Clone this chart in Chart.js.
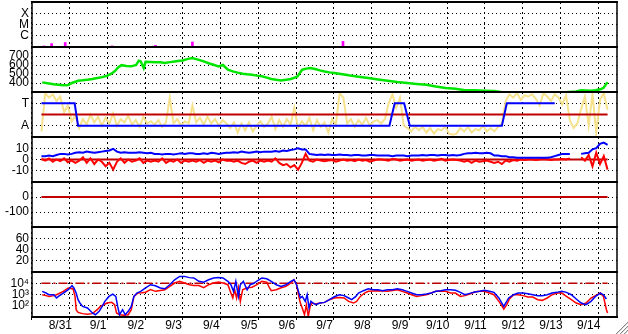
<!DOCTYPE html>
<html><head><meta charset="utf-8">
<script src="https://cdn.jsdelivr.net/npm/chart.js@4"></script>
<style>html,body{margin:0;padding:0;background:#fff;overflow:hidden}</style>
</head><body>
<canvas id="c" width="628" height="334"></canvas>
<script>
// ---------- labels ----------
const dayLabels = ['8/31','9/1','9/2','9/3','9/4','9/5','9/6','9/7','9/8','9/9','9/10','9/11','9/12','9/13','9/14'];
const xrayTickVals = [1,2,3];            const xrayTickText = ['C','M','X'];
const speedTickVals = [400,500,600,700];
const taTickVals = [1,3];                const taTickText = ['A','T'];
const bzTickVals = [-10,0,10];
const dstTickVals = [-100,0];
const kpTickVals = [20,40,60];
const fluxTickVals = [100,1000,10000];   const fluxTickText = ['10\u00b2','10\u00b3','10\u2074'];

// ---------- panel 1: flare spikes (days, height) ----------
const flareT = [0.07,0.27,0.63,1.87,3.02,4.00,7.99];
const flareH = [0.1,0.3,0.4,0.1,0.15,0.45,0.5];

// ---------- panel 2: solar wind speed ----------
const speedT = [0.02,0.20,0.33,0.45,0.58,0.71,0.81,0.97,1.09,1.22,1.35,1.48,1.61,1.74,1.84,1.94,2.04,2.12,2.25,2.38,
2.51,2.58,2.63,2.71,2.76,2.89,3.02,3.15,3.27,3.40,3.53,3.66,3.74,3.86,3.99,4.15,4.30,4.43,4.56,4.69,
4.81,4.94,5.07,5.20,5.33,5.45,5.58,5.71,5.84,5.97,6.09,6.22,6.35,6.48,6.61,6.71,6.79,6.86,6.91,7.02,
7.12,7.25,7.38,7.50,7.63,7.76,7.89,8.02,8.14,8.40,8.66,8.92,9.17,9.43,9.69,9.94,10.20,10.45,10.71,10.97,
11.22,11.48,11.74,11.99,12.25,12.76,13.27,13.79,14.17,14.30,14.56,14.68,14.81,14.89,15.0];
const speedV = [407,395,385,380,375,378,400,425,430,437,445,455,465,481,500,529,575,598,590,585,
600,648,640,567,635,633,630,630,622,632,640,648,651,665,677,660,640,620,603,585,
600,548,529,515,503,497,492,482,474,460,444,435,429,435,444,460,474,520,548,560,
567,555,540,528,518,510,503,495,485,470,455,440,425,410,400,390,380,360,345,335,
320,320,315,310,295,290,290,295,305,320,315,320,330,345,410];

// ---------- panel 3: yellow index (step 0.1 day), blue level, red reference ----------
const yellowStep = 0.1;
const yellowV = [0.5,3.9,3.5,3.8,3.2,3.6,2.2,2.8,1.4,1.9,
0.8,1.6,1.1,2.0,1.3,1.8,1.0,1.7,1.2,2.1,
1.0,1.6,1.3,1.9,1.1,1.5,0.9,1.8,1.2,1.4,
1.1,1.5,0.9,1.3,3.5,1.2,1.6,1.0,1.4,1.2,
2.8,1.3,1.7,1.1,1.8,1.2,1.6,1.0,1.5,1.2,
0.8,1.3,0.4,1.2,0.6,1.3,0.5,1.0,1.4,0.9,
1.2,1.8,0.7,1.5,0.9,1.6,1.1,2.6,0.8,1.4,
1.0,1.7,0.6,1.5,0.9,1.3,0.4,1.6,1.1,3.9,
3.5,1.2,1.6,0.9,1.5,1.1,1.7,1.0,1.4,1.5,
1.2,1.6,3.0,3.8,2.6,3.5,1.0,0.8,0.5,0.9,
0.6,0.9,0.4,0.8,0.3,0.7,0.6,0.9,0.3,0.2,
0.3,0.8,0.5,0.9,0.4,0.7,0.6,1.0,0.5,0.8,
0.5,0.9,1.2,3.2,3.8,3.5,3.9,3.3,3.7,3.6,
3.8,3.4,2.8,3.9,3.6,3.2,3.8,3.5,2.9,3.7,
1.5,0.8,1.2,2.5,3.6,1.0,3.8,0.4,3.3,3.9,2.4];
const levelT = [0,0.88,0.97,9.22,9.36,9.61,9.76,12.2,12.33,13.6];
const levelV = [3,3,1,1,3,3,1,1,3,3];
const taRef = 2;

// ---------- panel 4: Bz (red) and Bt (blue), step 0.1 day ----------
const bStep = 0.1;
const bzV = [0.5,-1,1,-2,0,-1.5,1,-2.5,-1,-3,
-1,2,-3,1,-4,0,-2,-6,-3,-9,
-2,1,-3,0,-2,-1,1,-3,-1,-2,
-1,-2,1,-3,-1,-2,0,-3,-1,-2,
-1,-2,-0.5,-3,-1,-2,-1,-2.5,0,-1,
-1,-2,-1,-3,-4,-2,-1,-3,-1,-2,
-1,-2,1,-3,-5,-4,-7,-5,-9,-3,
5,-1,-2,0,-1,-1.5,-1,-0.5,-2,-1,
0,-1,-0.5,-1.5,0,-1,-0.5,-2,-1,0,
0,-0.5,-1,0.5,0,-1,-0.5,0,-1,-0.5,
0,-1,-0.5,0,-1,-0.5,0.5,-1,-0.5,0,
-0.5,-1,-2,-1,-3,-1,-2,-1.5,-1,-2,
-3,-2,-4,-1,-2,-0.5,-1,0,-0.5,0,
0,-0.5,0,0.5,0,-0.5,0,0,0.5,0,
1,null,null,2,-1,4,-6,6,-4,3,-9];
const btV = [3,3,3.5,3,4,5,5,4.5,5,6,
6.5,6,7,6.5,6,6.5,7,7.5,8,9.5,
7,6,6.5,6,6,6,6.5,6,5.5,6,
5,5,4.5,5,5,4.5,5,5.5,5,5.5,
5.5,5,5,5.5,5,6,5.5,5,5.5,6,
6,6.5,6,7,6.5,6,6.5,7,6.5,7,
7,7,7.5,7,8,7.5,8.5,9,10,9,
9,5,4.5,4,4.5,4,4.5,4,4,4.5,
4,4,3.5,4,4,3.5,3.5,4,4,3.5,
3.5,3.5,3.5,3,3.5,3.5,3.5,3,3.5,3.5,
3.5,4,3.5,4,4,3.5,4,4,3.5,4,
3.5,4,5,5.5,5.5,6,5.5,5.5,6,5.5,
3.5,3.5,3,3,2,2,1.5,1.5,1.5,1.5,
1.5,1.5,1.5,1.5,1.5,2,3,4,5,5,
5,null,null,5,5.5,6,9,10,14,15,13];
const bzRef = 0;
const dstRef = 0;

// ---------- panel 7: electron flux (log10 of value) ----------
const fluxBlueT = [0.02,0.12,0.20,0.33,0.40,0.45,0.58,0.71,0.81,0.86,0.92,0.97,1.02,1.09,1.22,1.35,1.43,1.53,1.61,1.68,
1.79,1.89,1.97,2.02,2.07,2.15,2.22,2.30,2.38,2.45,2.53,2.63,2.76,2.89,3.02,3.15,3.27,3.40,3.53,3.66,
3.79,3.92,4.04,4.17,4.30,4.43,4.56,4.69,4.81,4.94,5.02,5.09,5.15,5.22,5.27,5.35,5.45,5.53,5.63,5.71,
5.84,5.97,6.09,6.22,6.35,6.48,6.61,6.69,6.76,6.81,6.86,6.91,6.99,7.04,7.09,7.14,7.20,7.27,7.38,7.50,
7.63,7.76,7.89,8.02,8.14,8.22,8.33,8.40,8.53,8.66,8.79,8.92,9.04,9.17,9.30,9.43,9.56,9.69,9.81,9.94,
10.07,10.20,10.33,10.45,10.58,10.71,10.84,10.97,11.10,11.22,11.35,11.48,11.61,11.74,11.87,11.99,12.12,12.20,12.25,12.30,
12.38,12.51,12.63,12.76,12.89,13.02,13.15,13.27,13.40,13.53,13.66,13.79,13.91,14.04,14.17,14.30,14.43,14.56,14.68,14.81,
14.89,14.97];
const fluxBlueLog = [3.28,3.13,2.98,2.98,2.69,2.83,3.13,3.43,3.78,3.58,3.13,2.54,2.24,1.94,1.80,1.36,1.2,1.5,1.94,2.39,
2.83,3.04,2.83,1.94,1.2,1.65,1.2,1.5,1.94,2.83,3.13,3.28,3.58,3.87,3.78,3.58,3.51,3.87,4.31,4.61,
4.61,4.5,4.47,4.17,4.1,4.31,4.47,4.5,4.47,4.17,3.87,3.28,4.17,2.83,3.87,4.17,3.42,3.87,4.0,4.2,
4.47,4.4,4.17,3.87,3.72,3.87,4.17,4.31,3.87,3.28,2.69,2.83,2.39,2.98,1.8,2.39,2.24,2.09,2.24,2.3,
2.54,2.8,2.98,2.9,2.69,2.54,2.83,3.13,3.34,3.5,3.42,3.42,3.34,3.42,3.42,3.51,3.42,3.28,3.13,2.98,
2.98,3.05,3.13,3.28,3.34,3.42,3.42,3.37,3.19,2.98,3.1,3.22,3.28,3.37,3.28,3.19,2.69,2.24,1.94,2.24,
2.69,2.98,3.13,3.13,3.07,2.98,2.9,2.9,2.98,3.13,3.19,3.28,3.19,2.98,2.6,2.24,2.09,2.39,2.83,3.13,
2.98,2.6];
const fluxRedT = [0.02,0.12,0.20,0.33,0.40,0.58,0.71,0.84,0.89,0.92,0.97,1.09,1.22,1.35,1.48,1.56,1.74,1.86,1.94,1.99,
2.07,2.20,2.30,2.38,2.45,2.56,2.66,2.76,2.89,3.02,3.15,3.27,3.40,3.53,3.66,3.79,3.92,4.04,4.17,4.30,
4.43,4.56,4.69,4.81,4.94,5.02,5.07,5.12,5.17,5.22,5.27,5.33,5.45,5.58,5.71,5.84,5.97,6.04,6.09,6.22,
6.35,6.48,6.61,6.69,6.76,6.81,6.86,6.91,6.97,7.02,7.07,7.12,7.17,7.27,7.38,7.50,7.63,7.76,7.89,8.02,
8.14,8.27,8.35,8.45,8.56,8.66,8.92,9.17,9.43,9.56,9.69,9.81,9.94,10.07,10.20,10.45,10.71,10.84,10.97,11.10,
11.22,11.35,11.48,11.61,11.74,11.87,11.99,12.12,12.20,12.25,12.33,12.40,12.51,12.63,12.76,12.89,13.02,13.15,13.27,13.40,
13.53,13.66,13.79,13.91,14.04,14.17,14.30,14.43,14.56,14.68,14.81,14.89,14.97,15.0];
const fluxRedLog = [2.98,2.9,2.83,2.9,2.98,3.28,3.58,3.49,2.83,1.65,1.41,1.3,1.25,1.3,1.65,1.94,2.24,2.3,2.09,1.36,
1.2,1.15,1.2,1.65,2.83,3.13,3.15,3.2,3.43,3.28,3.35,3.42,3.72,4.02,4.17,4.02,3.87,3.8,3.8,3.6,
3.87,4.02,4.1,4.02,3.87,3.13,2.69,3.42,2.69,3.6,2.39,3.42,3.6,3.65,3.87,4.17,4.1,3.6,3.34,3.42,
3.6,3.72,4.02,4.31,3.87,2.98,2.24,1.8,1.2,2.09,1.05,1.94,2.24,2.15,2.24,2.3,2.54,2.69,2.74,2.69,
2.39,2.24,2.39,2.83,3.13,3.28,3.34,3.28,3.42,3.28,3.13,2.98,2.83,2.9,2.98,3.28,3.28,3.13,3.13,2.83,
2.9,3.04,3.22,3.28,3.28,3.13,2.98,2.39,2.0,1.71,2.1,2.6,2.98,2.98,2.9,2.78,2.78,2.54,2.48,2.69,
2.98,3.13,3.13,2.83,2.54,2.24,2.09,2.24,2.69,2.9,3.13,2.83,1.65,1.36];
const fluxRef = 10000;

// ---------- helpers ----------
const DAYS = dayLabels.length;
const FONT = {family: "'Liberation Sans', Arial, sans-serif", size: 12};
const pts = (ts, vs) => ts.map((t, i) => ({x: t, y: vs[i]}));
const evenly = (vs, step) => vs.map((v, i) => ({x: i * step, y: v}));
const flat = v => [{x: 0, y: v}, {x: DAYS, y: v}];
const DARKRED = '#c00000';

function yAxis(weight, min, max, vals, texts, type) {
  return {
    type: type || 'linear', min, max, position: 'left', stack: 'panels', stackWeight: 1, weight,
    afterBuildTicks: s => { s.ticks = vals.map(v => ({value: v})); },
    afterFit: s => { s.width = 32; s.paddingTop = 0; s.paddingBottom = 0; },
    ticks: {
      autoSkip: false, font: FONT, color: '#000', padding: 3,
      callback: (v) => { const i = vals.indexOf(v); return texts ? texts[i] : String(v); }
    },
    grid: { color: '#000', lineWidth: 1, drawTicks: false },
    border: { display: false, dash: [1, 3] }
  };
}

const line = (data, yAxisID, color, width, order, extra) => Object.assign({
  type: 'line', data, yAxisID, xAxisID: 'x', borderColor: color, borderWidth: width,
  pointRadius: 0, tension: 0, fill: false, spanGaps: false, order
}, extra || {});

const panelClip = {
  id: 'panelClip',
  beforeDatasetDraw(chart, args) {
    const ys = chart.scales[args.meta.yAxisID];
    const ca = chart.chartArea, ctx = chart.ctx;
    ctx.save(); ctx.beginPath();
    ctx.rect(ca.left, ys.top, ca.right - ca.left, ys.bottom - ys.top);
    ctx.clip();
  },
  afterDatasetDraw(chart) { chart.ctx.restore(); }
};

const frame = {
  id: 'frame',
  afterDatasetsDraw(chart) {
    const ctx = chart.ctx, ca = chart.chartArea;
    const edges = new Set();
    Object.values(chart.scales).filter(s => s.axis === 'y').forEach(s => {
      edges.add(Math.round(s.top)); edges.add(Math.round(s.bottom));
    });
    ctx.save(); ctx.setLineDash([]); ctx.strokeStyle = '#000';
    ctx.lineWidth = 2; ctx.beginPath();
    edges.forEach(y => { ctx.moveTo(ca.left - 1, y); ctx.lineTo(ca.right + 1, y); });
    ctx.stroke();
    ctx.lineWidth = 1.5; ctx.beginPath();
    ctx.moveTo(ca.left, ca.top); ctx.lineTo(ca.left, ca.bottom);
    ctx.moveTo(ca.right, ca.top); ctx.lineTo(ca.right, ca.bottom);
    ctx.stroke(); ctx.restore();
  }
};

const grip = {
  id: 'grip',
  afterDraw(chart) {
    const ctx = chart.ctx, W = chart.width, H = chart.height;
    ctx.save(); ctx.lineWidth = 1;
    [4, 8, 12].forEach(k => {
      ctx.strokeStyle = '#888'; ctx.beginPath(); ctx.moveTo(W - k, H); ctx.lineTo(W, H - k); ctx.stroke();
      ctx.strokeStyle = '#ddd'; ctx.beginPath(); ctx.moveTo(W - k + 1, H); ctx.lineTo(W, H - k + 1); ctx.stroke();
    });
    ctx.restore();
  }
};

const xTickColor = c => (c.tick && Math.abs(c.tick.value % 1) < 1e-9) ? '#000' : 'rgba(0,0,0,0)';

new Chart(document.getElementById('c'), {
  type: 'line',
  data: {
    datasets: [
      { type: 'bar', data: pts(flareT, flareH), yAxisID: 'yX', xAxisID: 'x', backgroundColor: '#ff00ff',
        barThickness: 2, grouped: false, order: 1 },
      line(pts(speedT, speedV), 'yV', '#00e600', 2.5, 1),
      line(evenly(yellowV, yellowStep), 'yT', 'rgb(246,226,140)', 2, 5),
      line(flat(taRef), 'yT', DARKRED, 2, 4),
      line(pts(levelT, levelV), 'yT', '#0000ff', 2, 3),
      line(flat(bzRef), 'yB', DARKRED, 2, 5),
      line(evenly(bzV, bStep), 'yB', '#ff0000', 2, 4),
      line(evenly(btV, bStep), 'yB', '#0000ff', 2, 3),
      line(flat(dstRef), 'yD', DARKRED, 2, 3),
      line(flat(fluxRef), 'yF', DARKRED, 1.5, 5, {borderDash: [9, 3, 2, 3]}),
      line(pts(fluxRedT, fluxRedLog.map(v => Math.pow(10, v))), 'yF', '#ff0000', 1.5, 4),
      line(pts(fluxBlueT, fluxBlueLog.map(v => Math.pow(10, v))), 'yF', '#0000ff', 1.5, 3)
    ]
  },
  options: {
    responsive: false, animation: false, events: [],
    layout: { padding: { top: 2, right: 11, left: 0, bottom: 0 } },
    plugins: { legend: { display: false }, tooltip: { enabled: false } },
    scales: {
      x: {
        type: 'linear', min: 0, max: DAYS, position: 'bottom',
        afterBuildTicks: s => { const t = []; for (let i = 0; i <= DAYS * 2; i++) t.push({value: i / 2}); s.ticks = t; },
        afterFit: s => { s.height = 17; s.paddingLeft = 0; s.paddingRight = 0; },
        ticks: { autoSkip: false, maxRotation: 0, minRotation: 0, font: FONT, color: '#000', padding: -2,
          callback: v => (Math.abs(v % 1 - 0.5) < 1e-9) ? dayLabels[Math.floor(v)] : '' },
        grid: { color: xTickColor, tickColor: xTickColor, lineWidth: 1, tickLength: 3, tickBorderDash: [] },
        border: { display: false, dash: [2, 3] }
      },
      yX: yAxis(7, 0, 4, xrayTickVals, xrayTickText),
      yV: yAxis(6, 300, 800, speedTickVals, null),
      yT: yAxis(5, 0, 4, taTickVals, taTickText),
      yB: yAxis(4, -20, 20, bzTickVals, null),
      yD: yAxis(3, -200, 100, dstTickVals, null),
      yK: yAxis(2, 0, 80, kpTickVals, null),
      yF: yAxis(1, 10, 100000, fluxTickVals, fluxTickText, 'logarithmic')
    }
  },
  plugins: [panelClip, frame, grip]
});
</script>
</body></html>
